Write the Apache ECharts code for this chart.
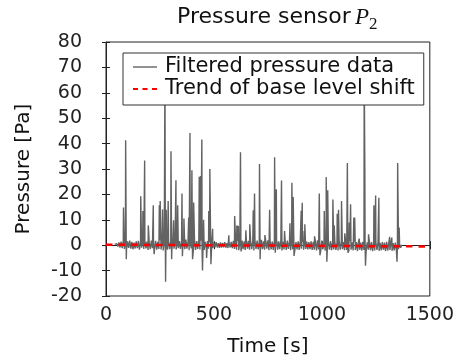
<!DOCTYPE html>
<html>
<head>
<meta charset="utf-8">
<script src="https://cdn.jsdelivr.net/npm/echarts@6.0.0/dist/echarts.min.js"></script>
<style>
  html, body { margin: 0; padding: 0; background: #fff; }
  #chart { width: 457px; height: 362px; }
</style>
</head>
<body>
<div id="chart"></div>
<script>
// axis ticks
var xTicks = [0, 500, 1000, 1500];
var yTicks = [-20, -10, 0, 10, 20, 30, 40, 50, 60, 70, 80];

// background noise of the filtered signal, one sample every 5 s from t = 40 s
var noiseStart = 40;
var noiseStep = 5;
var noise = [
  0.3, -0.4, 0.6, -0.5, 1.1, -0.9, 1.4, -1.2, 1.6, -1.5, 1.2, -1.7, 1.5, -1.1, 1.8, -1.4, 1.3, -1.6, 1.0, -1.3,
  1.5, -1.2, 1.7, -1.8, 1.2, -1.0, 1.6, -1.5, 1.9, -1.3, 1.4, -1.9, 1.1, -1.6, 1.8, -1.2, 1.5, -1.4, 1.7, -1.8,
  1.3, -1.5, 2.0, -1.7, 1.6, -2.1, 1.4, -1.3, 1.9, -1.8, 1.2, -1.6, 1.7, -1.9, 2.1, -1.4, 1.5, -1.7, 1.8, -1.2,
  1.6, -1.5, 1.3, -1.8, 1.9, -1.6, 2.2, -1.4, 1.5, -2.0, 1.7, -1.3, 1.4, -1.7, 1.9, -1.9, 1.6, -1.5, 2.0, -1.7,
  1.8, -1.6, 1.5, -1.9, 1.3, -1.2, 1.6, -1.4, 1.1, -1.0, 0.9, -1.1, 1.0, -0.8, 1.2, -0.9, 0.8, -1.0, 1.1, -0.9,
  0.9, -0.8, 1.2, -1.0, 0.8, -1.1, 1.0, -0.9, 1.3, -1.2, 1.7, -1.5, 1.9, -1.8, 1.6, -2.0, 1.4, -1.7, 1.8, -1.6,
  1.5, -1.9, 2.0, -1.4, 1.7, -1.8, 1.3, -1.6, 1.9, -2.1, 1.6, -1.5, 1.8, -1.7, 1.4, -1.9, 2.1, -1.6, 1.5, -1.8,
  1.7, -1.4, 1.9, -2.0, 1.6, -1.7, 1.4, -1.9, 1.8, -1.5, 2.2, -1.8, 1.5, -1.6, 1.9, -2.1, 1.3, -1.7, 1.6, -1.9,
  1.8, -1.5, 1.4, -2.0, 1.7, -1.6, 1.9, -1.8, 1.2, -1.7, 1.5, -1.9, 1.6, -1.4, 1.3, -1.8, 1.1, -1.5, 1.4, -1.7,
  1.2, -1.6, 1.5, -1.9, 1.3, -1.8, 1.6, -2.1, 1.9, -1.7, 1.4, -2.0, 1.8, -1.6, 1.5, -2.2, 1.7, -1.9, 1.2, -1.8,
  1.6, -2.0, 1.3, -1.7, 1.5, -1.9, 1.1, -2.1, 1.4, -1.8, 1.7, -1.6, 1.2, -2.0, 1.5, -1.9, 1.3, -2.2, 1.6, -1.8,
  1.1, -2.0, 1.4, -1.9, 1.2, -2.3, 1.5, -1.8, 1.0, -2.1, 1.3, -1.9, 1.6, -2.2, 1.1, -1.8, 1.4, -2.0, 1.2, -2.3,
  1.0, -2.1, 1.3, -1.9, 1.1, -2.2, 0.9, -2.0, 1.2, -1.8, 1.0, -2.3, 1.3, -2.1, 0.9, -1.9, 1.1, -2.2, 0.8, -2.0,
  1.0, -1.8, 0.7, -1.6, 0.4, -1.0, 0.2
];

// pressure peaks [time s, pressure Pa]
var spikes = [
  [81, 14.8], [91, 41.3], [94, -5.5], [161, 19.3], [171, 13.5], [179, 33.3], [196, 7.8],
  [219, 15.7], [223, -3.5], [247, 15.7], [251, 17.4], [262, 14.1], [273, 70], [276, -14.4],
  [279, 14], [288, 17.4], [301, 37], [304, -5.5], [313, 9.8], [324, 25.6], [332, 15.7],
  [352, 20.4], [354, -4.3], [361, 10.5], [383, 10.9], [389, 44.2], [398, 29.5], [401, -5.5],
  [406, 16.8], [432, 26.9], [438, 27.2], [444, 41.6], [447, -10], [452, 10], [466, -5],
  [476, 13.5], [481, 30], [486, -7.5], [494, 6.5],
  [569, 3.9], [596, 11.5], [606, 7.8], [613, 7.6], [623, 36.6], [626, -2.5], [648, 5.9],
  [666, 8.2], [682, 13.8], [688, 20.4], [711, 32], [714, -5.5], [736, 4], [758, 14],
  [781, 34.6], [784, -3], [789, 22], [813, 25.5], [827, 5.6], [852, 8.6], [861, 24.6],
  [867, 19], [871, -4.2], [904, 13.6], [909, 16.7], [912, 5.6], [921, 8.2],
  [966, 3.5], [988, 20.4], [991, -4], [1011, 13.5], [1020, 26.8], [1023, -6.5], [1027, 21.6],
  [1051, 18], [1057, 7.8], [1071, 12.4], [1077, 14], [1091, 17.4], [1106, 4.7], [1118, 32.4],
  [1121, -3], [1127, 8.9], [1133, 16.1], [1148, 10.9], [1152, 10.9], [1173, 2.6], [1196, 70],
  [1199, 29.8], [1202, -8.1], [1216, 4.3], [1241, 15.7], [1249, 19.6], [1264, 18.7],
  [1314, 3.3], [1324, 3], [1348, -6.5], [1351, 32.4], [1358, 7]
];

// base level shift trend
var trendTime = [0, 1500];
var trendValue = [0.2, -0.5];

var pressurePoints = noise
  .map(function (v, i) { return [noiseStart + i * noiseStep, v]; })
  .concat(spikes)
  .sort(function (a, b) { return a[0] - b[0]; });

var trendPoints = trendTime.map(function (t, i) { return [t, trendValue[i]]; });

var font = 'DejaVu Sans';
var boxColor = '#222';
var dataColor = '#636363';
var trendColor = '#ff0000';

var chartDom = document.getElementById('chart');
var myChart = echarts.init(chartDom, null, { renderer: 'canvas' });

var xBase = {
  type: 'value',
  min: xTicks[0],
  max: xTicks[xTicks.length - 1],
  interval: xTicks[1] - xTicks[0],
  splitLine: { show: false },
  axisTick: { inside: true, length: 4, lineStyle: { color: boxColor } }
};
var yBase = {
  type: 'value',
  min: yTicks[0],
  max: yTicks[yTicks.length - 1],
  interval: yTicks[1] - yTicks[0],
  splitLine: { show: false },
  axisTick: { inside: true, length: 4, lineStyle: { color: boxColor } }
};

var plainNumber = function (v) { return String(v); };

var option = {
  animation: false,
  grid: {
    left: 106, right: 27, top: 42, bottom: 65,
    show: true, borderColor: boxColor, borderWidth: 1, backgroundColor: '#fff'
  },
  graphic: [
    { type: 'text', left: 177, top: 6, style: { text: 'Pressure sensor', font: '22px "DejaVu Sans"', fill: '#111' } },
    { type: 'text', left: 355, top: 6, style: { text: 'P', font: 'italic 23px "Liberation Serif"', fill: '#111' } },
    { type: 'text', left: 369, top: 16, style: { text: '2', font: '17px "Liberation Serif"', fill: '#111' } }
  ],
  legend: {
    left: 123, top: 53,
    orient: 'vertical',
    backgroundColor: '#fff',
    borderColor: '#333',
    borderWidth: 1,
    borderRadius: 0,
    padding: [3, 9, 5, 10],
    itemWidth: 24,
    itemHeight: 14,
    itemGap: 0,
    textStyle: { fontFamily: font, fontSize: 21, color: '#111', lineHeight: 22, padding: [0, 0, 0, 3] },
    data: [
      { name: 'Filtered pressure data', icon: 'path://M0 0H24V1.4H0Z' },
      { name: 'Trend of base level shift', icon: 'path://M0 0H5V2H0Z M9.5 0H14.5V2H9.5Z M19 0H24V2H19Z' }
    ]
  },
  xAxis: [
    Object.assign({}, xBase, {
      position: 'bottom',
      name: 'Time [s]',
      nameLocation: 'middle',
      nameGap: 41,
      nameTextStyle: { fontFamily: font, fontSize: 20, color: '#111' },
      axisLine: { show: true, lineStyle: { color: boxColor } },
      axisLabel: { margin: 10, fontFamily: font, fontSize: 19, color: '#222', formatter: plainNumber }
    }),
    Object.assign({}, xBase, {
      position: 'top',
      axisLine: { show: false },
      axisLabel: { show: false }
    })
  ],
  yAxis: [
    Object.assign({}, yBase, {
      position: 'left',
      name: 'Pressure [Pa]',
      nameLocation: 'middle',
      nameGap: 72,
      nameTextStyle: { fontFamily: font, fontSize: 20, color: '#111' },
      axisLine: { show: true, lineStyle: { color: boxColor } },
      axisLabel: { margin: 24, fontFamily: font, fontSize: 19, color: '#222', formatter: plainNumber }
    }),
    Object.assign({}, yBase, {
      position: 'right',
      axisLine: { show: false },
      axisLabel: { show: false }
    })
  ],
  series: [
    {
      name: 'Filtered pressure data',
      type: 'line',
      data: pressurePoints,
      symbol: 'none',
      showSymbol: false,
      color: dataColor,
      lineStyle: { color: dataColor, width: 1.4 },
      z: 2
    },
    {
      name: 'Trend of base level shift',
      type: 'line',
      data: trendPoints,
      symbol: 'none',
      showSymbol: false,
      color: trendColor,
      lineStyle: { color: trendColor, width: 2.5, type: [6.5, 6] },
      z: 3
    }
  ]
};

option && myChart.setOption(option);
</script>
</body>
</html>
